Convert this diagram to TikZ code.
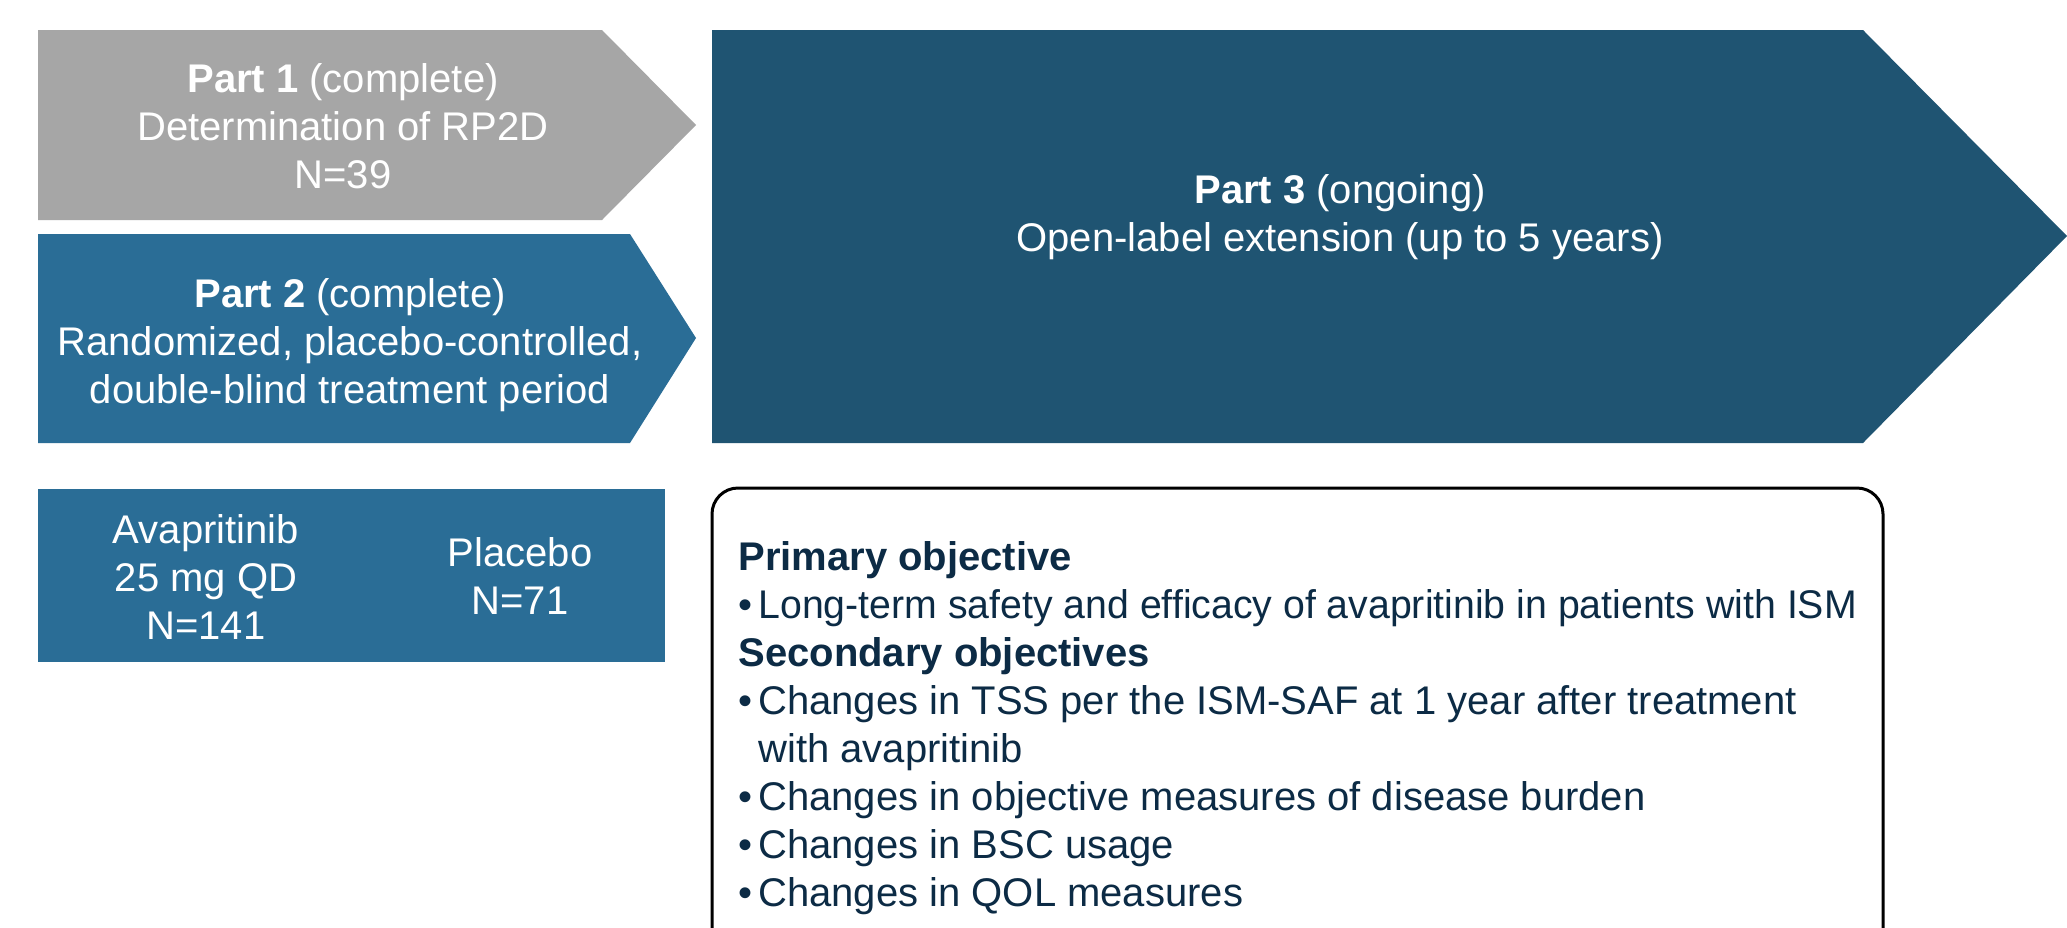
\documentclass[tikz,border=0pt]{standalone}
\usepackage{fontspec}
\usepackage{graphicx}
\setmainfont{Liberation Sans}
\definecolor{partgray}{HTML}{A6A6A6}
\definecolor{partblue}{HTML}{2A6D96}
\definecolor{partnavy}{HTML}{1F5472}
\definecolor{objtext}{HTML}{0C2B45}
\newcommand{\objbullet}{\makebox[10pt][l]{\textbullet}}
\begin{document}
\begin{tikzpicture}[x=0.5pt,y=-0.5pt,
  phasetext/.style={text=white, inner sep=0pt, anchor=base,
    font=\fontsize{20}{24}\selectfont},
  objtextstyle/.style={text=objtext, inner sep=0pt, anchor=base west,
    font=\fontsize{20}{24}\selectfont}]
\useasboundingbox (0,0) rectangle (2067,927);
\fill[white] (0,0) rectangle (2067,927);

% study parts as chevrons
\fill[partgray] (38,30) -- (602,30) -- (696,125) -- (602,220) -- (38,220) -- cycle;
\fill[partblue] (38,234) -- (630,234) -- (696,338) -- (630,443) -- (38,443) -- cycle;
\fill[partnavy] (712,30) -- (1863,30) -- (2067,236) -- (1863,443) -- (712,443) -- cycle;

% randomization arms
\fill[partblue] (38,489) rectangle (665,662);

% objectives panel, open at the lower edge
\begin{scope}
  \clip (0,0) rectangle (2067,927);
  \draw[line width=1.5pt, rounded corners=13pt]
    (712,980) -- (712,488) -- (1883,488) -- (1883,980);
\end{scope}

\node[phasetext] (part1) at (343,92) {\begin{tabular}[t]{@{}c@{}}
  \textbf{Part 1} (complete)\\ Determination of RP2D\\ N=39\end{tabular}};
\node[phasetext] (part2) at (350,307) {\begin{tabular}[t]{@{}c@{}}
  \textbf{Part 2} (complete)\\ Randomized, placebo-controlled,\\ double-blind treatment period\end{tabular}};
\node[phasetext] (part3) at (1340,203) {\begin{tabular}[t]{@{}c@{}}
  \textbf{Part 3} (ongoing)\\ Open-label extension (up to 5 years)\end{tabular}};
\node[phasetext] (armA) at (206,543) {\begin{tabular}[t]{@{}c@{}}
  Avapritinib\\ 25 mg QD\\ N=141\end{tabular}};
\node[phasetext] (armB) at (520,566) {\begin{tabular}[t]{@{}c@{}}
  Placebo\\ N=71\end{tabular}};

\node[objtextstyle] (objectives) at (738,570) {\begin{tabular}[t]{@{}l@{}}
  \textbf{Primary objective}\\
  \objbullet\scalebox{0.981}[1]{Long-term safety and efficacy of avapritinib in patients with ISM}\\
  \textbf{Secondary objectives}\\
  \objbullet Changes in TSS per the ISM-SAF at 1 year after treatment\\
  \hspace*{10pt}with avapritinib\\
  \objbullet Changes in objective measures of disease burden\\
  \objbullet Changes in BSC usage\\
  \objbullet Changes in QOL measures
\end{tabular}};
\end{tikzpicture}
\end{document}
